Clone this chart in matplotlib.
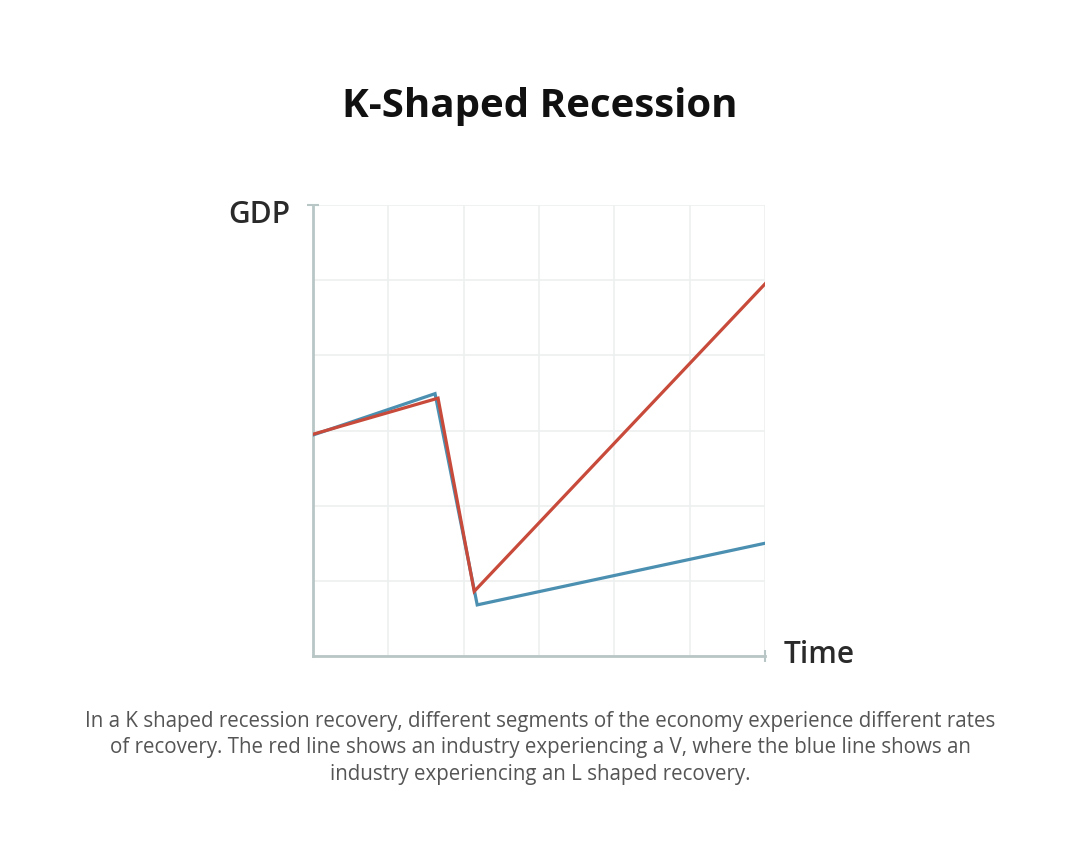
import matplotlib
matplotlib.use("Agg")
import matplotlib.pyplot as plt

# data (arbitrary units, axes run 0..6)
blue_x = [0.0, 1.62, 2.18, 6.0]
blue_y = [2.94, 3.49, 0.68, 1.50]
red_x = [0.0, 1.66, 2.14, 6.0]
red_y = [2.95, 3.43, 0.86, 4.95]

title = "K-Shaped Recession"
caption = ("In a K shaped recession recovery, different segments of the economy experience different rates\n"
           "of recovery. The red line shows an industry experiencing a V, where the blue line shows an\n"
           "industry experiencing an L shaped recovery.")

plt.rcParams['font.family'] = ['Open Sans', 'DejaVu Sans']

fig = plt.figure(figsize=(10.8, 8.44), dpi=100)
ax = fig.add_axes([313/1080, 1 - 656/844, 452/1080, 451/844])

ax.plot(blue_x, blue_y, color='#4b8fb1', lw=2.3, solid_joinstyle='miter', zorder=3)
ax.plot(red_x, red_y, color='#c84a3a', lw=2.3, solid_joinstyle='miter', zorder=4)

ax.set_xlim(0, 6)
ax.set_ylim(0, 6)
# grid on minor ticks, the end caps are the only major ticks
ax.set_xticks(range(6), minor=True)
ax.set_yticks(range(6), minor=True)
ax.set_xticks([6])
ax.set_yticks([6])
ax.tick_params(which='minor', length=0)
ax.tick_params(which='major', direction='inout', length=8, width=1.5, color='#b9c6c6',
               labelbottom=False, labelleft=False)
ax.grid(True, which='both', color='#edf0f0', lw=1.2)
ax.set_axisbelow(True)

for s in ['top', 'right']:
    ax.spines[s].set_visible(False)
for s in ['left', 'bottom']:
    ax.spines[s].set_color('#b9c6c6')
    ax.spines[s].set_linewidth(2)

fig.text(0.5, 1 - 106/844, title, ha='center', va='center', fontsize=29, fontweight='bold', color='#111111')
fig.text(290/1080, 1 - 215/844, "GDP", ha='right', va='center', fontsize=21.5, fontweight='semibold',
         color='#2a2a2a')
fig.text(784/1080, 1 - 655/844, "Time", ha='left', va='center', fontsize=21.5, fontweight='semibold',
         color='#2a2a2a')
fig.text(0.5, 1 - 748/844, caption, ha='center', va='center', fontsize=14.8, color='#555555',
         linespacing=1.33)

fig.savefig("out.png", dpi=100)
